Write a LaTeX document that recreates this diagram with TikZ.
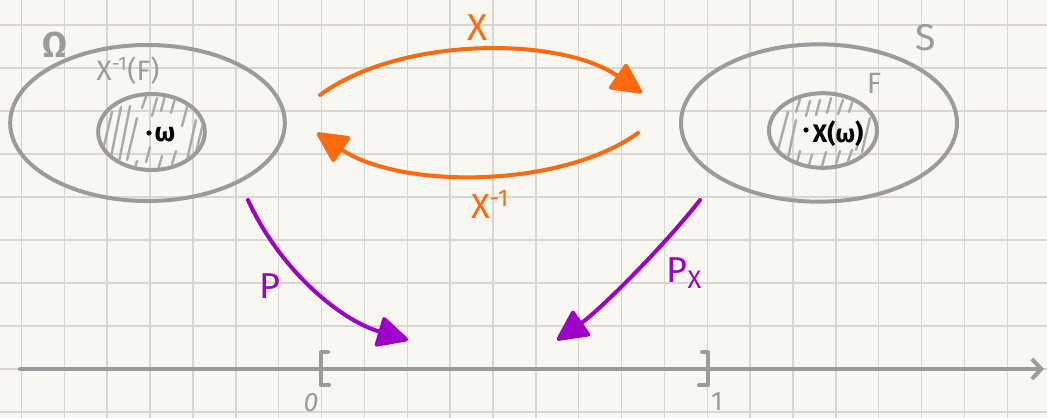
\documentclass[tikz,border=0pt]{standalone}
\usepackage{fontspec}
\setmainfont{Fira Sans}
\usetikzlibrary{arrows.meta,shapes.geometric}
\definecolor{paper}{HTML}{F9F7F2}
\definecolor{gridc}{HTML}{D9D6D0}
\definecolor{setgray}{HTML}{9B9B9B}
\definecolor{maporange}{HTML}{FF6A10}
\definecolor{mappurple}{HTML}{9E00C8}
\tikzset{
  setline/.style={draw=setgray, line width=3pt, ellipse, inner sep=0pt},
  hatch/.style={draw=setgray!85, line width=1.8pt, line cap=round},
  orangemap/.style={draw=maporange, line width=3pt, line cap=round,
     -{Triangle[length=25pt,width=24pt,round]}, maporange},
  purplemap/.style={draw=mappurple, line width=3pt, line cap=round,
     -{Triangle[length=25pt,width=24pt,round]}, mappurple},
  graylabel/.style={text=setgray, inner sep=0pt},
  axisline/.style={draw=setgray, line width=3pt, line cap=round, line join=round},
}
\begin{document}
\begin{tikzpicture}[x=0.75pt,y=-0.75pt]
\useasboundingbox (0,0) rectangle (1047,418);
\fill[paper] (0,0) rectangle (1047,418);
% grid
\foreach \k in {0,...,24} { \draw[gridc, line width=1.1pt] ({21.5+42.86*\k},0) -- ({21.5+42.86*\k},418); }
\foreach \k in {0,...,9} { \draw[gridc, line width=1.1pt] (0,{412-43*\k}) -- (1047,{412-43*\k}); }

% sets
\node[setline, minimum width=206pt, minimum height=117pt] (Omega) at (147.5,123) {};
\node[setline, minimum width=80pt, minimum height=57pt] (pre) at (151.5,132) {};
\node[setline, minimum width=207pt, minimum height=118pt] (S) at (819,123) {};
\node[setline, minimum width=81pt, minimum height=56pt] (F) at (823,130.5) {};

% hatching left
\begin{scope}
\clip (151.5,132) ellipse [x radius=52, y radius=36.5];
\foreach \a/\b/\c/\d in {103/150/112/112, 110/162/121/107, 118/167/130/106, 127/160/137/118,
  133/174/137/161, 142/108/147/94, 152/116/157/98, 161/111/166/92, 171/113/176/95,
  182/126/189/100, 187/160/196/120, 196/152/203/124, 146/162/150/147, 158/170/162/156, 172/164/176/151}
  { \draw[hatch] (\a,\b) -- (\c,\d); }
\end{scope}
% hatching right
\begin{scope}
\clip (823,130.5) ellipse [x radius=52, y radius=36];
\foreach \a/\b/\c/\d in {778/150/788/112, 788/158/796/120, 796/112/800/99, 806/116/810/101,
  816/115/820/100, 827/113/831/98, 838/114/843/100, 849/112/853/100, 862/152/870/118,
  796/166/800/151, 808/168/812/155, 822/166/826/152, 836/164/840/151, 848/161/852/150, 856/150/860/136}
  { \draw[hatch] (\a,\b) -- (\c,\d); }
\end{scope}

% labels of sets
\node[graylabel, font=\bfseries\fontsize{27}{28}\selectfont] (OmegaL) at (55,45) {Ω};
\node[graylabel, font=\fontsize{21}{23}\selectfont] (preL) at (128,71) {X\textsuperscript{-1}(F)};
\node[graylabel, font=\fontsize{28}{30}\selectfont] (SL) at (926,38) {S};
\node[graylabel, font=\fontsize{22}{24}\selectfont] (FL) at (874,83) {F};

% points
\fill (149,133) circle [radius=2.6];
\node[inner sep=0pt, font=\bfseries\fontsize{20}{22}\selectfont] (omegaT) at (165,135) {ω};
\fill (806,130) circle [radius=2.6];
\node[inner sep=0pt, font=\bfseries\fontsize{19}{21}\selectfont] (XomegaT) at (838,134) {X(ω)};

% orange maps
\coordinate (xs) at (320,95);
\coordinate (xe) at (642,93);
\coordinate (ys) at (638,133);
\coordinate (ye) at (317,133);
\draw[orangemap] (xs) .. controls (400,36) and (560,36) .. (xe);
\draw[orangemap] (ys) .. controls (560,189) and (400,189) .. (ye);
\node[text=maporange, inner sep=0pt, font=\fontsize{28}{30}\selectfont] (XL) at (478,28) {X};
\node[text=maporange, inner sep=0pt, font=\fontsize{26}{28}\selectfont] (XinvL) at (490,204) {X\textsuperscript{-1}};

% purple maps
\coordinate (ps) at (248,200);
\coordinate (pe) at (408,340);
\coordinate (qs) at (700,200);
\coordinate (qe) at (557,340);
\draw[purplemap] (ps) .. controls (280,270) and (340,320) .. (pe);
\draw[purplemap] (qs) .. controls (665,245) and (600,310) .. (qe);
\node[text=mappurple, inner sep=0pt, font=\fontsize{27}{29}\selectfont] (PL) at (270,286) {P};
\node[text=mappurple, inner sep=0pt, font=\fontsize{27}{29}\selectfont] (PxL) at (684,273) {P\raisebox{-0.35ex}{\fontsize{19}{20}\selectfont X}};

% axis
\coordinate (a0) at (20,369);
\coordinate (a1) at (1044,369);
\draw[axisline, -{Straight Barb[length=7pt,width=15pt,line width=3pt]}] (a0) -- (a1);
\draw[axisline] (328,352) -- (321,352) -- (321,385) -- (329,385);
\draw[axisline] (702,352) -- (708,352) -- (708,385) -- (699,385);
\node[graylabel, anchor=north, font=\itshape\fontsize{20}{21}\selectfont] (zero) at (311,393) {0};
\node[graylabel, anchor=north, font=\fontsize{20}{21}\selectfont] (one) at (717,392) {1};
\end{tikzpicture}
\end{document}
